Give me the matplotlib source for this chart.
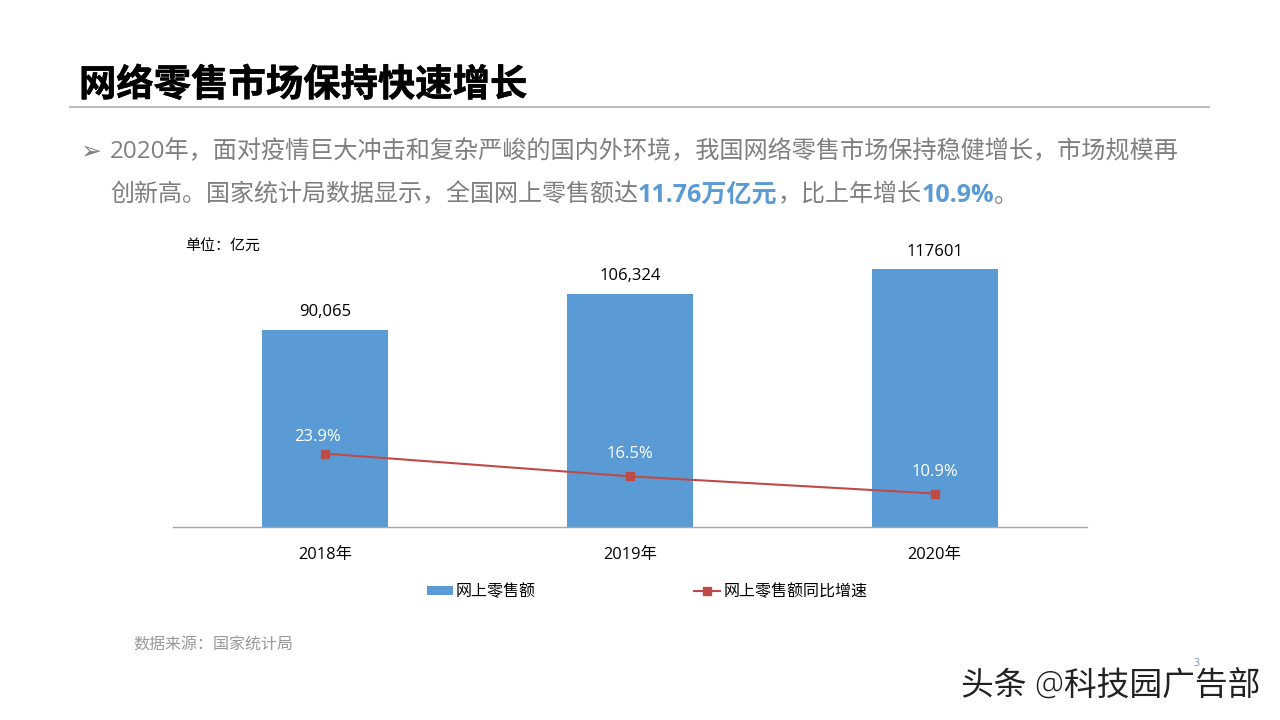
import matplotlib
matplotlib.use("Agg")
import matplotlib.patheffects as pe
import matplotlib.pyplot as plt
from matplotlib.lines import Line2D
from matplotlib.patches import Patch

# Online retail sales slide: bars for sales, line for yoy growth.

years = ["2018年", "2019年", "2020年"]
sales = [90065, 106324, 117601]
sales_labels = ["90,065", "106,324", "117601"]
growth = [23.9, 16.5, 10.9]
growth_labels = ["23.9%", "16.5%", "10.9%"]

title = "网络零售市场保持快速增长"
body_line1 = "2020年，面对疫情巨大冲击和复杂严峻的国内外环境，我国网络零售市场保持稳健增长，市场规模再"
body_line2 = [
    ("创新高。国家统计局数据显示，全国网上零售额达", False),
    ("11.76万亿元", True),
    ("，比上年增长", False),
    ("10.9%", True),
    ("。", False),
]

W, H = 1280, 720
BLUE = "#5B9BD5"
RED = "#BE4B48"
GRAY = "#7F7F7F"
FONTS = ["Open Sans", "Noto Sans CJK SC", "DejaVu Sans"]

plt.rcParams["font.family"] = FONTS


def put(fig, x, y, s, **kw):
    kw.setdefault("va", "center")
    return fig.text(x / W, 1 - y / H, s, **kw)


fig = plt.figure(figsize=(W / 100, H / 100), dpi=100, facecolor="white")

# axes box in pixels: x 173-1087, y 220-527
ax = fig.add_axes([173 / W, 1 - 527 / H, 914 / W, 307 / H])
x = range(len(years))
ax.bar(x, sales, width=0.414, color=BLUE, zorder=2)
ax.set_xlim(-0.5, 2.5)
ax.set_ylim(0, 140000)
ax.set_xticks(list(x), years, fontsize=11.8, color="black")
ax.tick_params(axis="x", length=0, pad=14.5)
ax.set_yticks([])
for side in ("top", "left", "right"):
    ax.spines[side].set_visible(False)
ax.spines["bottom"].set_color("#A6A6A6")
ax.spines["bottom"].set_linewidth(1.0)
for i, lab in enumerate(sales_labels):
    ax.annotate(lab, (i, sales[i]), xytext=(0, 12.6), textcoords="offset points",
                ha="center", va="center", fontsize=12, color="black")

ax2 = ax.twinx()
ax2.set_ylim(0, 100)
ax2.set_yticks([])
for side in ("top", "left", "right", "bottom"):
    ax2.spines[side].set_visible(False)
ax2.plot(x, growth, "-s", color=RED, linewidth=1.5, markersize=6, zorder=5)
# the labels were placed by hand in the original, so offsets differ per point
label_offsets = [(-5.8, 12.3), (0, 15.9), (0, 15.7)]
for i, lab in enumerate(growth_labels):
    ax2.annotate(lab, (i, growth[i]), xytext=label_offsets[i],
                 textcoords="offset points", ha="center", va="center",
                 fontsize=12, color="white")

handles = [
    Patch(facecolor=BLUE, edgecolor="none"),
    Line2D([], [], color=RED, linewidth=1.5, marker="s", markersize=6),
]
fig.legend(handles, ["网上零售额", "网上零售额同比增速"], loc="center",
           bbox_to_anchor=(647 / W, 1 - 592 / H), ncol=2, frameon=False,
           fontsize=11.5, handlelength=1.63, handleheight=0.55,
           handletextpad=0.2, columnspacing=9.9)

# header
put(fig, 79, 84.5, title, fontsize=26.9, fontweight="black", color="black",
    family=["Noto Sans CJK SC", "DejaVu Sans"],
    path_effects=[pe.withStroke(linewidth=0.4, foreground="black")])
fig.add_artist(Line2D([70 / W, 1209 / W], [1 - 107 / H, 1 - 107 / H],
                      color="#BFBFBF", linewidth=1.5))

# body text
put(fig, 80, 151, "➢", fontsize=18, color=GRAY, family="DejaVu Sans")
put(fig, 110, 152.5, body_line1, fontsize=17.42, color=GRAY)

fig.canvas.draw()
renderer = fig.canvas.get_renderer()
cur = 110
for seg, strong in body_line2:
    t = put(fig, cur, 195.5, seg, fontsize=18.1 if strong else 17.3,
            color=BLUE if strong else GRAY,
            fontweight="bold" if strong else "normal")
    cur += t.get_window_extent(renderer).width

put(fig, 185.5, 247, "单位：亿元", fontsize=10.8, color="black")
put(fig, 133, 645.5, "数据来源：国家统计局", fontsize=11.5, color="#999999", style="italic")
put(fig, 1196, 664, "3", fontsize=7.5, color="#7F93AA", ha="center")
put(fig, 961, 686, "头条 @科技园广告部", fontsize=23.6, color="#222222", fontweight="light")

fig.savefig("out.png", dpi=100)
plt.close(fig)
